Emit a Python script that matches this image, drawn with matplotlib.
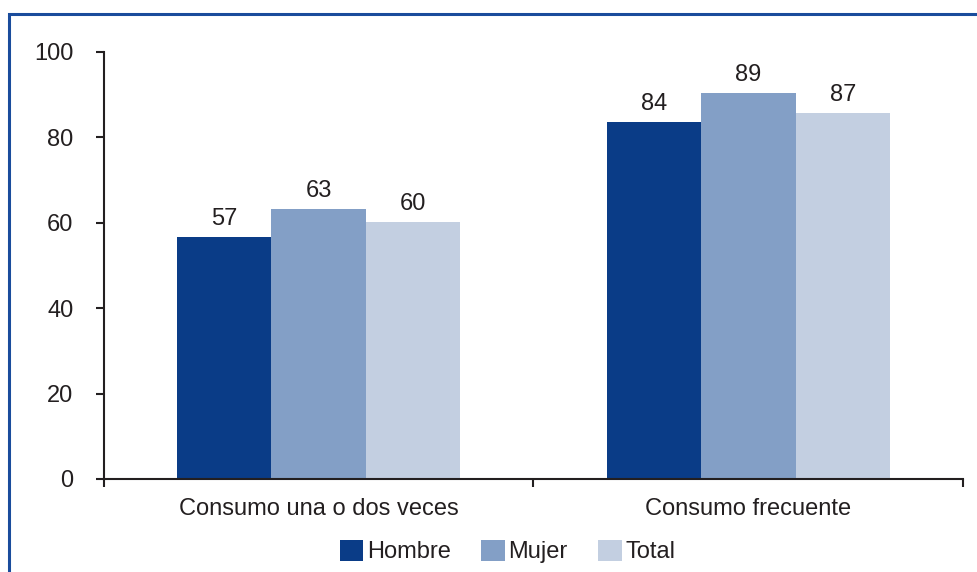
import numpy as np
import matplotlib.pyplot as plt
from matplotlib.patches import Rectangle

plt.rcParams['font.family'] = ['Liberation Sans', 'DejaVu Sans']

categories = ['Consumo una o dos veces', 'Consumo frecuente']
series = ['Hombre', 'Mujer', 'Total']
hombre = [56.7, 83.6]
mujer = [63.2, 90.4]
total = [60.2, 85.7]
hombre_lbl = ['57', '84']
mujer_lbl = ['63', '89']
total_lbl = ['60', '87']
colors = ['#0a3c87', '#839fc6', '#c3cfe1']
txt = '#231f20'
fs = 17

fig = plt.figure(figsize=(9.78, 5.72), dpi=100)
ax = fig.add_axes([0.1063, 0.1626, 0.8784, 0.7465])

x = np.arange(len(categories))
w = 0.22
for i, (vals, lbls) in enumerate([(hombre, hombre_lbl), (mujer, mujer_lbl), (total, total_lbl)]):
  pos = x + (i - 1) * w
  ax.bar(pos, vals, width=w, color=colors[i], label=series[i], zorder=2)
  for p, v, l in zip(pos, vals, lbls):
    ax.text(p, v + 1.6, l, ha='center', va='bottom', fontsize=fs, color=txt)

ax.set_xlim(-0.5, 1.5)
ax.set_ylim(0, 100)
ax.set_yticks(range(0, 101, 20))
ax.set_xticks([-0.5, 0.5, 1.5], minor=False)
ax.set_xticklabels(['', '', ''])
ax.set_xticks(x, minor=True)
ax.set_xticklabels(categories, minor=True)
ax.tick_params(axis='x', which='minor', length=0, pad=14, labelsize=fs, labelcolor=txt)
ax.tick_params(axis='x', which='major', length=6, width=1.5, color=txt)
ax.tick_params(axis='y', length=6, width=1.5, color=txt, pad=16, labelsize=fs, labelcolor=txt)
for s in ['top', 'right']:
  ax.spines[s].set_visible(False)
for s in ['left', 'bottom']:
  ax.spines[s].set_linewidth(1.5)
  ax.spines[s].set_color(txt)

leg = fig.legend(loc='center', bbox_to_anchor=(0.519, 0.036), ncol=3, frameon=False,
                 fontsize=fs, handlelength=1.0, handleheight=1.0, handletextpad=0.15,
                 columnspacing=1.3)
for t in leg.get_texts():
  t.set_color(txt)

fig.patches.append(Rectangle((9 / 978, -0.1), 1.2, 0.1 + 1 - 14 / 572, transform=fig.transFigure,
                             fill=False, edgecolor='#1a4c9c', linewidth=2.2))

plt.savefig('out.png', dpi=100, facecolor='w')
